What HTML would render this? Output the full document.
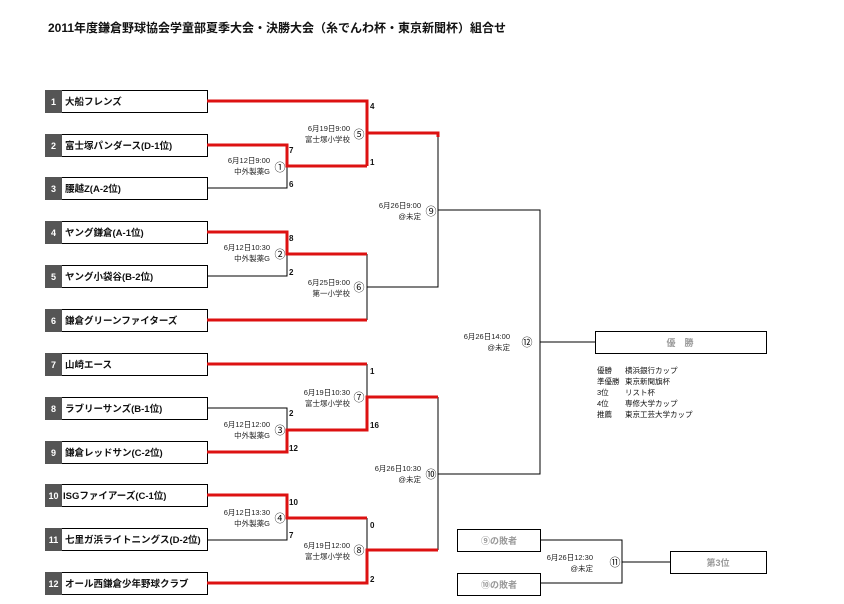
<!DOCTYPE html>
<html><head><meta charset="utf-8"><style>
html,body{margin:0;padding:0;background:#fff;width:844px;height:604px;overflow:hidden}
svg text{font-family:"Liberation Sans","Noto Sans CJK JP",sans-serif}
</style></head><body>
<svg width="844" height="604" viewBox="0 0 844 604" xmlns="http://www.w3.org/2000/svg">
<text x="48" y="32" font-size="12" font-weight="bold" fill="#111">2011年度鎌倉野球協会学童部夏季大会・決勝大会（糸でんわ杯・東京新聞杯）組合せ</text>
<g stroke="#000" stroke-width="1" fill="none">
<rect x="45.5" y="90.5" width="162" height="22"/>
<rect x="45.5" y="134.5" width="162" height="22"/>
<rect x="45.5" y="177.5" width="162" height="22"/>
<rect x="45.5" y="221.5" width="162" height="22"/>
<rect x="45.5" y="265.5" width="162" height="22"/>
<rect x="45.5" y="309.5" width="162" height="22"/>
<rect x="45.5" y="353.5" width="162" height="22"/>
<rect x="45.5" y="397.5" width="162" height="22"/>
<rect x="45.5" y="441.5" width="162" height="22"/>
<rect x="45.5" y="484.5" width="162" height="22"/>
<rect x="45.5" y="528.5" width="162" height="22"/>
<rect x="45.5" y="572.5" width="162" height="22"/>
</g>
<g fill="#555">
<rect x="45" y="90" width="17" height="23"/><rect x="45" y="134" width="17" height="23"/>
<rect x="45" y="177" width="17" height="23"/><rect x="45" y="221" width="17" height="23"/>
<rect x="45" y="265" width="17" height="23"/><rect x="45" y="309" width="17" height="23"/>
<rect x="45" y="353" width="17" height="23"/><rect x="45" y="397" width="17" height="23"/>
<rect x="45" y="441" width="17" height="23"/><rect x="45" y="484" width="17" height="23"/>
<rect x="45" y="528" width="17" height="23"/><rect x="45" y="572" width="17" height="23"/>
</g>
<g font-size="9" font-weight="bold" fill="#fff" text-anchor="middle">
<text x="53.5" y="105">1</text><text x="53.5" y="149">2</text><text x="53.5" y="192">3</text>
<text x="53.5" y="236">4</text><text x="53.5" y="280">5</text><text x="53.5" y="324">6</text>
<text x="53.5" y="368">7</text><text x="53.5" y="412">8</text><text x="53.5" y="456">9</text>
<text x="53.5" y="499">10</text><text x="53.5" y="543">11</text><text x="53.5" y="587">12</text>
</g>
<g font-size="9.5" font-weight="600" fill="#111">
<text x="65" y="105">大船フレンズ</text>
<text x="65" y="149">富士塚パンダース(D-1位)</text>
<text x="65" y="192">腰越Z(A-2位)</text>
<text x="65" y="236">ヤング鎌倉(A-1位)</text>
<text x="65" y="280">ヤング小袋谷(B-2位)</text>
<text x="65" y="324">鎌倉グリーンファイターズ</text>
<text x="65" y="368">山崎エース</text>
<text x="65" y="412">ラブリーサンズ(B-1位)</text>
<text x="65" y="456">鎌倉レッドサン(C-2位)</text>
<text x="63" y="499">ISGファイアーズ(C-1位)</text>
<text x="65" y="543">七里ガ浜ライトニングス(D-2位)</text>
<text x="65" y="587">オール西鎌倉少年野球クラブ</text>
</g>
<g stroke="#000" stroke-width="1" fill="none">
<polyline points="207,188 287,188 287,166"/>
<polyline points="207,276 287,276 287,254"/>
<polyline points="367,254 367,320"/>
<polyline points="367,287 438,287 438,133"/>
<polyline points="438,210 540,210 540,474 438,474"/>
<line x1="540" y1="342" x2="595" y2="342"/>
<polyline points="207,408 287,408 287,430"/>
<polyline points="367,364 367,397"/>
<polyline points="438,397 438,550"/>
<polyline points="207,540 287,540 287,518"/>
<polyline points="367,518 367,550"/>
<polyline points="540,540 622,540 622,583 540,583"/>
<line x1="622" y1="562" x2="670" y2="562"/>
<rect x="595.5" y="331.5" width="171" height="22"/>
<rect x="670.5" y="551.5" width="96" height="22"/>
<rect x="457.5" y="529.5" width="83" height="22"/>
<rect x="457.5" y="573.5" width="83" height="22"/>
</g>
<g stroke="#d11" stroke-width="3" fill="none" stroke-linejoin="miter">
<polyline points="207,101 367,101 367,133 438,133 438,137"/>
<polyline points="207,145 287,145 287,166 367,166"/>
<line x1="367" y1="133" x2="367" y2="166"/>
<polyline points="207,232 287,232 287,254 367,254"/>
<polyline points="207,320 367,320"/>
<polyline points="207,364 367,364"/>
<polyline points="207,452 287,452 287,430 367,430 367,397 438,397"/>
<polyline points="207,495 287,495 287,518 367,518"/>
<polyline points="207,583 367,583 367,550 438,550"/>
</g>
<g font-size="7.5" fill="#222" text-anchor="end">
<text x="270" y="163">6月12日9:00</text><text x="270" y="174">中外製薬G</text>
<text x="350" y="131">6月19日9:00</text><text x="350" y="142">富士塚小学校</text>
<text x="421" y="208">6月26日9:00</text><text x="421" y="219">@未定</text>
<text x="270" y="250">6月12日10:30</text><text x="270" y="261">中外製薬G</text>
<text x="350" y="285">6月25日9:00</text><text x="350" y="296">第一小学校</text>
<text x="510" y="339">6月26日14:00</text><text x="510" y="350">@未定</text>
<text x="350" y="395">6月19日10:30</text><text x="350" y="406">富士塚小学校</text>
<text x="270" y="427">6月12日12:00</text><text x="270" y="438">中外製薬G</text>
<text x="421" y="471">6月26日10:30</text><text x="421" y="482">@未定</text>
<text x="270" y="515">6月12日13:30</text><text x="270" y="526">中外製薬G</text>
<text x="350" y="548">6月19日12:00</text><text x="350" y="559">富士塚小学校</text>
<text x="593" y="560">6月26日12:30</text><text x="593" y="571">@未定</text>
</g>
<g font-size="11" fill="#111" text-anchor="middle">
<text x="280" y="171">①</text><text x="359" y="138">⑤</text><text x="431" y="215">⑨</text>
<text x="280" y="258">②</text><text x="359" y="291">⑥</text><text x="527" y="346">⑫</text>
<text x="359" y="401">⑦</text><text x="280" y="434">③</text><text x="431" y="478">⑩</text>
<text x="280" y="522">④</text><text x="359" y="554">⑧</text><text x="615" y="566">⑪</text>
</g>
<g font-size="8" font-weight="bold" fill="#111">
<text x="370" y="109">4</text><text x="370" y="165">1</text>
<text x="289" y="153">7</text><text x="289" y="187">6</text>
<text x="289" y="241">8</text><text x="289" y="275">2</text>
<text x="370" y="374">1</text><text x="370" y="428">16</text>
<text x="289" y="416">2</text><text x="289" y="451">12</text>
<text x="289" y="505">10</text><text x="289" y="538">7</text>
<text x="370" y="528">0</text><text x="370" y="582">2</text>
</g>
<g font-size="9" fill="#999" text-anchor="middle" font-weight="bold">
<text x="680" y="346">優　勝</text>
<text x="718" y="566">第3位</text>
<text x="499" y="544">⑨の敗者</text>
<text x="499" y="588">⑩の敗者</text>
</g>
<g font-size="7.5" fill="#111">
<text x="597" y="373">優勝</text><text x="625" y="373">横浜銀行カップ</text>
<text x="597" y="384">準優勝</text><text x="625" y="384">東京新聞旗杯</text>
<text x="597" y="395">3位</text><text x="625" y="395">リスト杯</text>
<text x="597" y="406">4位</text><text x="625" y="406">専修大学カップ</text>
<text x="597" y="417">推薦</text><text x="625" y="417">東京工芸大学カップ</text>
</g>
</svg>
</body></html>
